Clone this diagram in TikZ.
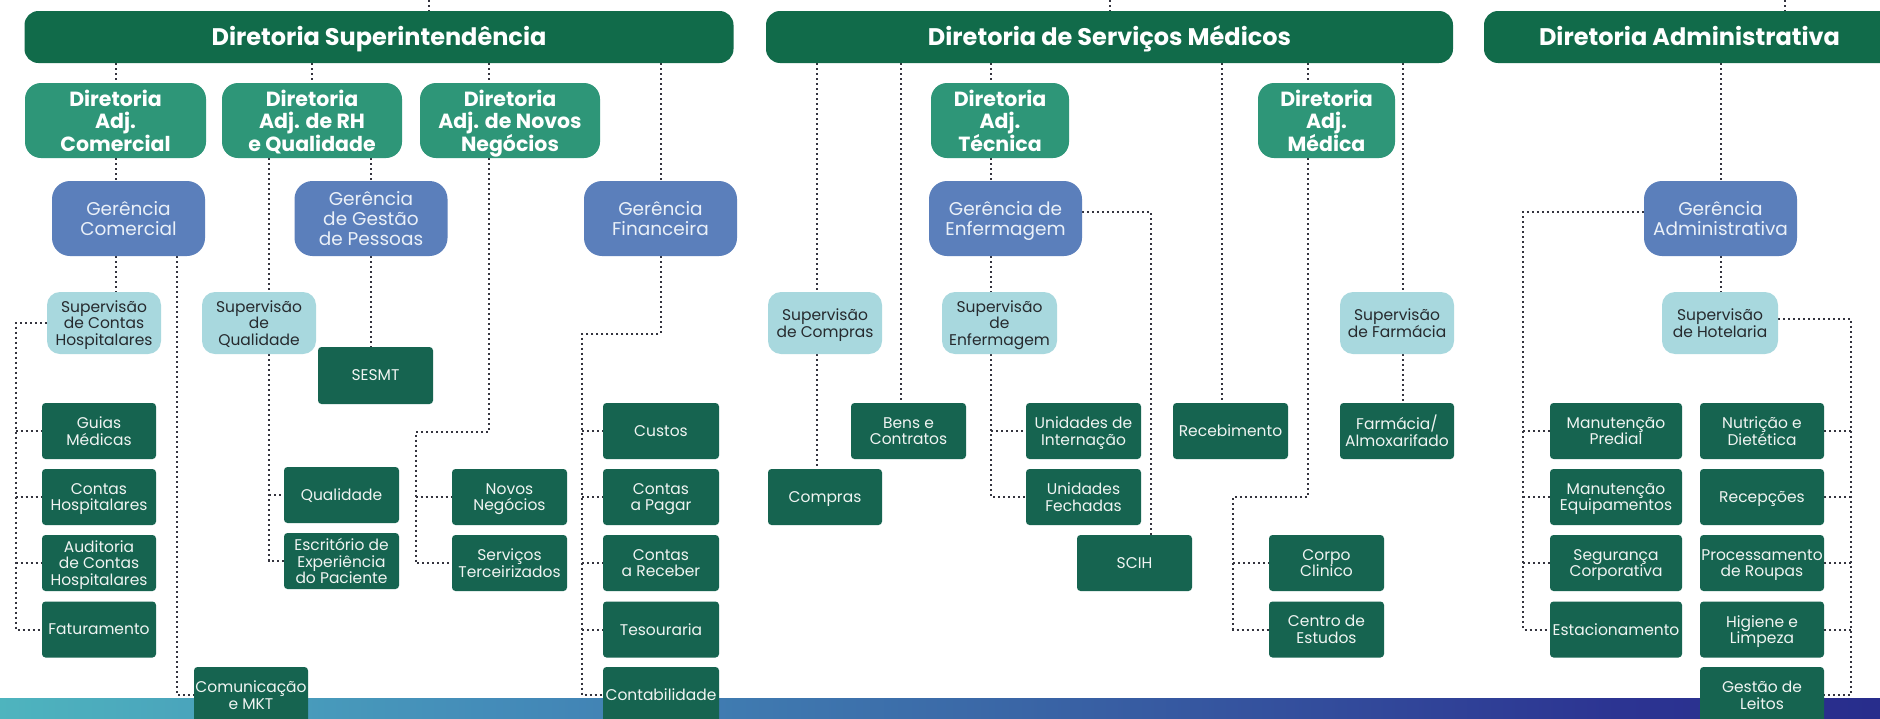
\documentclass[tikz,border=0pt]{standalone}
\usepackage{fontspec}
\setmainfont{Poppins}
\usetikzlibrary{calc}
\definecolor{cBar}{RGB}{17,107,74}
\definecolor{cAdj}{RGB}{46,150,120}
\definecolor{cGer}{RGB}{91,127,187}
\definecolor{cGerTxt}{RGB}{234,240,248}
\definecolor{cSup}{RGB}{168,216,222}
\definecolor{cSupTxt}{RGB}{38,42,46}
\definecolor{cUnit}{RGB}{22,100,80}
\definecolor{cUnitTxt}{RGB}{240,244,242}
\definecolor{cLine}{RGB}{52,52,62}
\definecolor{bandA}{RGB}{78,180,190}
\definecolor{bandB}{RGB}{68,140,185}
\definecolor{bandC}{RGB}{58,102,166}
\definecolor{bandD}{RGB}{44,52,146}
\definecolor{bandE}{RGB}{40,45,140}
\pgfdeclarehorizontalshading{bandshade}{100bp}{color(0bp)=(bandA); color(25bp)=(bandA); color(38bp)=(bandB); color(52bp)=(bandC); color(68bp)=(bandD); color(75bp)=(bandE); color(100bp)=(bandE)}
\pgfdeclarelayer{paper}
\pgfdeclarelayer{bg}
\pgfsetlayers{paper,bg,main}
\tikzset{
  barbox/.style={fill=cBar, rounded corners=14pt, minimum height=52pt, inner sep=0pt, text=white, text height=16.5pt, text depth=0pt, font=\fontsize{24}{26}\selectfont\bfseries},
  adjbox/.style={fill=cAdj, rounded corners=16pt, minimum height=75pt, inner sep=0pt, text=white, align=center, text depth=0pt, font=\fontsize{20.5}{22.7}\selectfont\bfseries},
  gerbox/.style={fill=cGer, rounded corners=18pt, minimum width=153pt, minimum height=75pt, inner sep=0pt, text=cGerTxt, align=center, text depth=0pt, font=\fontsize{18.5}{20}\selectfont},
  supbox/.style={fill=cSup, rounded corners=13pt, minimum width=114pt, minimum height=62pt, inner sep=0pt, text=cSupTxt, align=center, text depth=0pt, font=\fontsize{15.5}{16.7}\selectfont},
  unitbox/.style={fill=cUnit, rounded corners=3.5pt, minimum width=114pt, minimum height=56pt, inner sep=0pt, text=cUnitTxt, align=center, text depth=0pt, font=\fontsize{15.5}{16.7}\selectfont},
  conn/.style={draw=cLine, line width=2pt, dash pattern=on 2pt off 3pt}
}
\begin{document}
\begin{tikzpicture}[x=1pt,y=-1pt]
\useasboundingbox (0,0) rectangle (1880,718);
\clip (0,0) rectangle (1880,718);
\begin{pgfonlayer}{paper}
\fill[white] (0,0) rectangle (1880,718);
\shade[shading=bandshade] (0,698) rectangle (1880,718);
\end{pgfonlayer}

% ---- level 1
\node[barbox, minimum width=709pt] (sup) at (379,37) {Diretoria Superintendência};
\node[barbox, minimum width=687pt] (med) at (1109.5,37) {Diretoria de Serviços Médicos};
\node[barbox, minimum width=411pt] (adm) at (1689.5,37) {Diretoria Administrativa};

% ---- level 2
\node[adjbox, minimum width=181pt] (dac) at (115.5,120.5) {Diretoria\\Adj.\\Comercial};
\node[adjbox, minimum width=180pt] (drh) at (312,120.5) {Diretoria\\Adj. de RH\\e Qualidade};
\node[adjbox, minimum width=180pt] (dnn) at (510,120.5) {Diretoria\\Adj. de Novos\\Negócios};
\node[adjbox, minimum width=138pt] (dtec) at (1000,120.5) {Diretoria\\Adj.\\Técnica};
\node[adjbox, minimum width=137pt] (dmed) at (1326.5,120.5) {Diretoria\\Adj.\\Médica};

% ---- level 3
\node[gerbox] (gcom) at (128.5,218.5) {Gerência\\Comercial};
\node[gerbox] (ggp) at (371,218.5) {Gerência\\de Gestão\\de Pessoas};
\node[gerbox] (gfin) at (660.5,218.5) {Gerência\\Financeira};
\node[gerbox] (genf) at (1005.5,218.5) {Gerência de\\Enfermagem};
\node[gerbox] (gadm) at (1720.5,218.5) {Gerência\\Administrativa};

% ---- level 4
\node[supbox] (sch) at (104,323) {Supervisão\\de Contas\\Hospitalares};
\node[supbox] (sq) at (259,323) {Supervisão\\de\\Qualidade};
\node[supbox] (scomp) at (825,323) {Supervisão\\de Compras};
\node[supbox, minimum width=115pt] (senf) at (999.5,323) {Supervisão\\de\\Enfermagem};
\node[supbox] (sfarm) at (1397,323) {Supervisão\\de Farmácia};
\node[supbox, minimum width=116pt] (shot) at (1720,323) {Supervisão\\de Hotelaria};

% ---- units
\node[unitbox] (guias) at (99,431) {Guias\\Médicas};
\node[unitbox] (chosp) at (99,497) {Contas\\Hospitalares};
\node[unitbox] (aud) at (99,563) {Auditoria\\de Contas\\Hospitalares};
\node[unitbox] (fat) at (99,629.5) {Faturamento};
\node[unitbox] (com) at (251,695) {Comunicação\\e MKT};
\node[unitbox, minimum width=115pt, minimum height=57pt] (sesmt) at (375.5,375.5) {SESMT};
\node[unitbox, minimum width=115pt] (qual) at (341.5,495) {Qualidade};
\node[unitbox, minimum width=115pt] (esc) at (341.5,561) {Escritório de\\Experiência\\do Paciente};
\node[unitbox, minimum width=115pt] (novos) at (509.5,497) {Novos\\Negócios};
\node[unitbox, minimum width=115pt] (serv) at (509.5,563) {Serviços\\Terceirizados};
\node[unitbox, minimum width=116pt] (custos) at (661,431) {Custos};
\node[unitbox, minimum width=116pt] (cpag) at (661,497) {Contas\\a Pagar};
\node[unitbox, minimum width=116pt] (crec) at (661,563) {Contas\\a Receber};
\node[unitbox, minimum width=116pt] (tes) at (661,629.5) {Tesouraria};
\node[unitbox, minimum width=116pt] (contab) at (661,695) {Contabilidade};
\node[unitbox] (compras) at (825,497) {Compras};
\node[unitbox, minimum width=115pt] (bens) at (908.5,431) {Bens e\\Contratos};
\node[unitbox, minimum width=115pt] (uint) at (1083.5,431) {Unidades de\\Internação};
\node[unitbox, minimum width=115pt] (ufech) at (1083.5,497) {Unidades\\Fechadas};
\node[unitbox, minimum width=115pt] (scih) at (1134.5,563) {SCIH};
\node[unitbox, minimum width=115pt] (receb) at (1230.5,431) {Recebimento};
\node[unitbox] (farm) at (1397,431) {Farmácia/\\Almoxarifado};
\node[unitbox, minimum width=115pt] (corpo) at (1326.5,563) {Corpo\\Clinico};
\node[unitbox, minimum width=115pt] (centro) at (1326.5,629.5) {Centro de\\Estudos};
\node[unitbox, minimum width=132pt] (manp) at (1616,431) {Manutenção\\Predial};
\node[unitbox, minimum width=132pt] (mane) at (1616,497) {Manutenção\\Equipamentos};
\node[unitbox, minimum width=132pt] (seg) at (1616,563) {Segurança\\Corporativa};
\node[unitbox, minimum width=132pt] (estac) at (1616,629.5) {Estacionamento};
\node[unitbox, minimum width=124pt] (nutr) at (1762,431) {Nutrição e\\Dietética};
\node[unitbox, minimum width=124pt] (recep) at (1762,497) {Recepções};
\node[unitbox, minimum width=124pt] (proc) at (1762,563) {Processamento\\de Roupas};
\node[unitbox, minimum width=124pt] (hig) at (1762,629.5) {Higiene e\\Limpeza};
\node[unitbox, minimum width=124pt] (gleitos) at (1762,695) {Gestão de\\Leitos};

% ---- helper coordinates
\coordinate (t1) at (429,0);
\coordinate (t2) at (1110,0);
\coordinate (t3) at (1785,0);
\coordinate (xnn) at (489,0);
\coordinate (nnk) at (415.5,432);
\coordinate (fk) at (582,334);
\coordinate (xcm) at (177,0);
\coordinate (xl1) at (15.5,0);
\coordinate (xq) at (269,0);
\coordinate (xsc) at (817,0);
\coordinate (xbc) at (901,0);
\coordinate (xte) at (991,0);
\coordinate (xsci) at (1151,0);
\coordinate (xrc) at (1222,0);
\coordinate (xdm) at (1308,0);
\coordinate (dmk) at (1233,497);
\coordinate (xsf) at (1403,0);
\coordinate (xal) at (1523,0);
\coordinate (xar) at (1851,0);

\begin{pgfonlayer}{bg}
% top
\draw[conn] (t1) -- (t1 |- sup.north);
\draw[conn] (t2) -- (t2 |- med.north);
\draw[conn] (t3) -- (t3 |- adm.north);
% superintendencia
\draw[conn] (sup.south -| dac) -- (dac.north);
\draw[conn] (sup.south -| drh) -- (drh.north);
\draw[conn] (sup.south -| xnn) -- (dnn.north -| xnn);
\draw[conn] (sup.south -| gfin) -- (gfin.north);
\draw[conn] (dac.south) -- (dac.south |- gcom.north);
\draw[conn] (gcom.south -| dac) -- (sch.north -| dac);
\draw[conn] (gcom.south -| xcm) |- (com.west);
\draw[conn] (sch.west) -| (xl1 |- fat.west) -- (fat.west);
\draw[conn] (xl1 |- guias.west) -- (guias.west);
\draw[conn] (xl1 |- chosp.west) -- (chosp.west);
\draw[conn] (xl1 |- aud.west) -- (aud.west);
\draw[conn] (drh.south -| xq) -- (sq.north -| xq);
\draw[conn] (sq.south -| xq) |- (esc.west);
\draw[conn] (xq |- qual.west) -- (qual.west);
\draw[conn] (drh.south -| ggp) -- (ggp.north);
\draw[conn] (ggp.south) -- (ggp.south |- sesmt.north);
\draw[conn] (dnn.south -| xnn) |- (nnk) |- (serv.west);
\draw[conn] (nnk |- novos.west) -- (novos.west);
\draw[conn] (gfin.south) |- (fk) |- (contab.west);
\draw[conn] (fk |- custos.west) -- (custos.west);
\draw[conn] (fk |- cpag.west) -- (cpag.west);
\draw[conn] (fk |- crec.west) -- (crec.west);
\draw[conn] (fk |- tes.west) -- (tes.west);
% servicos medicos
\draw[conn] (med.south -| xsc) -- (scomp.north -| xsc);
\draw[conn] (scomp.south -| xsc) -- (compras.north -| xsc);
\draw[conn] (med.south -| xbc) -- (bens.north -| xbc);
\draw[conn] (med.south -| xte) -- (dtec.north -| xte);
\draw[conn] (dtec.south -| xte) -- (genf.north -| xte);
\draw[conn] (genf.south -| xte) -- (senf.north -| xte);
\draw[conn] (senf.south -| xte) |- (ufech.west);
\draw[conn] (xte |- uint.west) -- (uint.west);
\draw[conn] ([yshift=6.5pt]genf.east) -| (scih.north -| xsci);
\draw[conn] (med.south -| xrc) -- (receb.north -| xrc);
\draw[conn] (med.south -| xdm) -- (dmed.north -| xdm);
\draw[conn] (dmed.south -| xdm) |- (dmk) |- (centro.west);
\draw[conn] (dmk |- corpo.west) -- (corpo.west);
\draw[conn] (med.south -| xsf) -- (sfarm.north -| xsf);
\draw[conn] (sfarm.south -| xsf) -- (farm.north -| xsf);
% administrativa
\draw[conn] (adm.south -| gadm) -- (gadm.north);
\draw[conn] (gadm.south) -- (gadm.south |- shot.north);
\draw[conn] ([yshift=6.5pt]gadm.west) -| (xal |- estac.west) -- (estac.west);
\draw[conn] (xal |- manp.west) -- (manp.west);
\draw[conn] (xal |- mane.west) -- (mane.west);
\draw[conn] (xal |- seg.west) -- (seg.west);
\draw[conn] ([yshift=4pt]shot.east) -| (xar |- gleitos.east) -- (gleitos.east);
\draw[conn] (xar |- nutr.east) -- (nutr.east);
\draw[conn] (xar |- recep.east) -- (recep.east);
\draw[conn] (xar |- proc.east) -- (proc.east);
\draw[conn] (xar |- hig.east) -- (hig.east);
\end{pgfonlayer}
\end{tikzpicture}
\end{document}
